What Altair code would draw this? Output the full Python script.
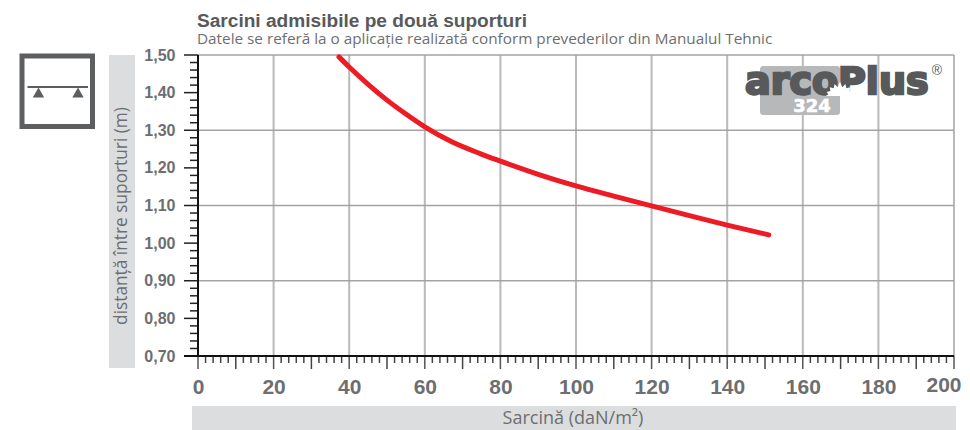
import altair as alt
import pandas as pd

# Curve values
load = [37.3, 40, 45, 50, 55, 60, 67, 74.6, 80, 90, 100, 110, 120, 130, 140, 151]
span = [1.495, 1.468, 1.422, 1.380, 1.343, 1.309, 1.270, 1.238, 1.218, 1.183, 1.152, 1.125, 1.099, 1.073, 1.048, 1.022]

x_labels = [0, 20, 40, 60, 80, 100, 120, 140, 160, 180]
x_last = [200]
y_labels = [0.7, 0.8, 0.9, 1.0, 1.1, 1.2, 1.3, 1.4, 1.5]
x_grid = [20, 40, 60, 80, 100, 120, 140, 160, 180, 200]
y_grid = [0.9, 1.1, 1.3, 1.5]
x_major = x_labels + x_last
x_mid = [10, 30, 50, 70, 90, 110, 130, 150, 170, 190]
x_minor = [v for v in range(0, 201, 2) if v % 10 != 0]
y_minor = [round(0.7 + 0.02 * i, 2) for i in range(41) if i % 5 != 0]

TITLE = "Sarcini admisibile pe două suporturi"
SUBTITLE = "Datele se referă la o aplicație realizată conform prevederilor din Manualul Tehnic"
Y_TITLE = "distanță între suporturi (m)"
X_TITLE = "Sarcină (daN/m²)"

L, T, W, H = 198, 55, 756, 301
DARK = "#58595b"
MID = "#6d6e71"
BAND = "#dcddde"
LINE = "#a3a3a3"
BODY = "Open Sans"

xs = alt.Scale(domain=[0, 200], nice=False, zero=False)
ys = alt.Scale(domain=[0.7, 1.5], nice=False, zero=False)
one = pd.DataFrame({"a": [0]})


def px(v):
    return alt.value(v - L)


def py(v):
    return alt.value(v - T)


def box(x0, x1, y0, y1, **kw):
    return alt.Chart(one).mark_rect(**kw).encode(x=px(x0), x2=px(x1), y=py(y0), y2=py(y1))


def label(text, x, y, **kw):
    return alt.Chart(one).mark_text(**kw).encode(x=px(x), y=py(y), text=alt.value(text))


def vrules(vals, y0, y1, **kw):
    return alt.Chart(pd.DataFrame({"v": vals})).mark_rule(**kw).encode(
        x=alt.X("v:Q", scale=xs, axis=None), y=py(y0), y2=py(y1))


def hrules(vals, x0, x1, **kw):
    return alt.Chart(pd.DataFrame({"v": vals})).mark_rule(**kw).encode(
        y=alt.Y("v:Q", scale=ys, axis=None), x=px(x0), x2=px(x1))


axes = alt.Chart(pd.DataFrame({"x": [0, 200], "y": [0.7, 1.5]})).mark_point(opacity=0).encode(
    x=alt.X("x:Q", scale=xs, title=None, axis=alt.Axis(
        values=x_labels, grid=False, ticks=False, domain=False, labelFontSize=21,
        labelFontWeight="bold", labelColor=MID, labelFont="Liberation Sans",
        labelPadding=20, labelFlush=False, labelOverlap=False, format="d")),
    y=alt.Y("y:Q", scale=ys, title=None, axis=alt.Axis(
        values=y_labels, grid=False, ticks=False, domain=False, labelFontSize=16,
        labelFontWeight="bold", labelColor=MID, labelFont="Liberation Sans",
        labelPadding=23, labelFlush=False, labelOverlap=False,
        labelExpr="replace(format(datum.value, '.2f'), '.', ',')")),
)

last_label = alt.Chart(pd.DataFrame({"v": x_last})).mark_text(
    align="center", baseline="middle", dx=-10, font="Liberation Sans", fontWeight="bold",
    fontSize=21, color=MID
).encode(x=alt.X("v:Q", scale=xs, axis=None), y=py(386), text=alt.Text("v:Q", format="d"))

curve = alt.Chart(pd.DataFrame({"x": load, "y": span})).mark_line(
    color="#ed1c24", strokeWidth=5, interpolate="monotone", strokeCap="round"
).encode(x=alt.X("x:Q", scale=xs, axis=None), y=alt.Y("y:Q", scale=ys, axis=None))

SUN = "M-1 0L-.82-.12L-.95-.28L-.68-.35L-.72-.62L-.45-.55L-.38-.85L-.17-.62L0-1L.17-.62L.38-.85L.45-.55L.72-.62L.68-.35L.95-.28L.82-.12L1 0Z"

chart = alt.layer(
    box(109, 135, 55, 368, color=BAND),
    box(192, 956, 406, 430, color=BAND),
    vrules(x_grid, 55, 356, color="#b9b9b9", strokeWidth=2),
    hrules(y_grid, 198, 954, color=LINE, strokeWidth=1.5),
    # logo
    box(760, 840, 66, 115, color="#b7b8ba", cornerRadius=3),
    label("arcoPlus", 745, 94, align="left", baseline="alphabetic", font="DejaVu Sans",
          fontWeight="bold", fontSize=38, color=DARK, stroke=DARK, strokeWidth=2.5),
    alt.Chart(one).mark_point(shape=SUN, filled=True, color="white", opacity=1, size=800).encode(
        x=px(840), y=py(96)),
    label("324", 812, 106.5, align="center", baseline="middle", font="DejaVu Sans",
          fontWeight="bold", fontSize=18, color="white", stroke="white", strokeWidth=0.6),
    label("®", 937, 71, align="center", baseline="middle", font="Liberation Sans",
          fontSize=14, color=DARK),
    # axes and ticks
    hrules(y_minor, 190, 198, color="#222222", strokeWidth=1.5),
    hrules(y_labels, 184, 198, color="#222222", strokeWidth=1.5),
    vrules(x_minor, 356, 363, color="#444444", strokeWidth=1.5),
    vrules(x_mid, 356, 369, color="#444444", strokeWidth=1.5),
    vrules(x_major, 356, 369, color="#555555", strokeWidth=1.5),
    hrules([0.7], 184, 954, color="#111111", strokeWidth=2),
    vrules([0], 55, 356, color="#111111", strokeWidth=2),
    axes,
    last_label,
    curve,
    # texts
    label(TITLE, 197, 21, align="left", baseline="middle", font="Liberation Sans",
          fontWeight="bold", fontSize=19.1, color=DARK),
    label(SUBTITLE, 197, 39, align="left", baseline="middle", font=BODY, fontSize=15.3, color=MID),
    label(Y_TITLE, 122, 216, align="center", baseline="middle", angle=270, font=BODY,
          fontSize=17.3, color=MID),
    label(X_TITLE, 573, 419, align="center", baseline="middle", font=BODY, fontSize=18, color=MID),
    # icon
    box(22, 92.5, 56, 126.5, fillOpacity=0, stroke="#5d5e60", strokeWidth=5),
    alt.Chart(one).mark_rule(color="#5d5e60", strokeWidth=2).encode(x=px(27.5), x2=px(88), y=py(87)),
    alt.Chart(pd.DataFrame({"v": [38.5, 78]})).mark_point(
        shape="triangle-up", filled=True, color="#5d5e60", opacity=1, size=130
    ).encode(x=alt.X("v:Q", scale=alt.Scale(domain=[L, L + W], range=[0, W]), axis=None), y=py(92.5)),
).resolve_scale(x="independent", y="independent").properties(
    width=W, height=H, autosize=alt.AutoSizeParams(type="none"),
    padding={"left": L - 8, "top": T - 8, "right": 8, "bottom": 74},
    background="white",
).configure_view(stroke=None)

chart.save("out.html", embed_options={"renderer": "svg", "actions": False})
